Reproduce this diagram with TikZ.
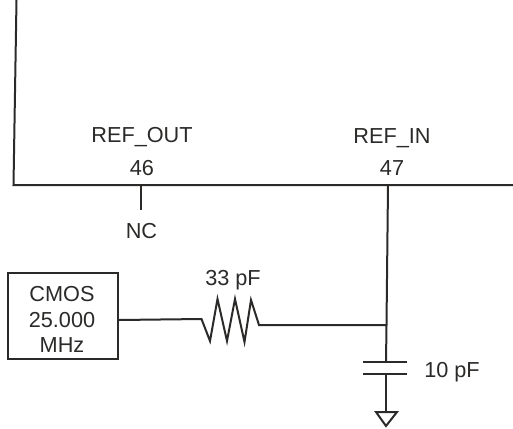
\documentclass[tikz,border=0pt]{standalone}
\usepackage{fontspec}
\setmainfont{Liberation Sans}
\definecolor{inkgray}{HTML}{2B2A29}
\tikzset{
	wire/.style={draw=inkgray, line width=2pt, line join=miter},
	lbl/.style={text=inkgray, font=\fontsize{21.7}{25}\selectfont, inner sep=0pt, anchor=base},
}
\begin{document}
\begin{tikzpicture}[x=1pt,y=-1pt]
	\useasboundingbox (0,0) rectangle (513,428);
	\coordinate (T) at (16.5, 0);
	\coordinate (L) at (13.5, 185);
	\coordinate (R) at (513, 185);
	\coordinate (P) at (141, 185);
	\coordinate (PE) at (141, 210);
	\coordinate (Q) at (388, 185);
	\coordinate (J) at (386.5, 325);
	\coordinate (CA) at (386, 362);
	\coordinate (CB) at (386, 374);
	\coordinate (G) at (386, 412);
	\coordinate (RA) at (201.5, 319);
	\coordinate (RB) at (259, 325);
	\draw[wire] (T) -- (L) -- (R);
	\draw[wire] (P) -- (PE);
	\draw[wire] (Q) -- (J) -- (CA);
	\draw[wire] (CB) -- (G);
	\draw[wire] (363, 362) -- (407, 362);
	\draw[wire] (363, 374) -- (407, 374);
	\draw[wire] (G) -- (376, 412) -- (386, 426) -- (397, 412) -- cycle;
	\node[lbl] (refout) at (142, 142) {REF\_OUT};
	\node[lbl] (pin46) at (142, 175) {46};
	\node[lbl] (refin) at (392, 143) {REF\_IN};
	\node[lbl] (pin47) at (392, 175) {47};
	\node[lbl] (nc) at (141.5, 238) {NC};
	\node[wire, minimum width=110pt, minimum height=85.5pt, inner sep=0pt] (osc) at (63, 316) {};
	\node[lbl] (osc1) at (62, 301.5) {CMOS};
	\node[lbl] (osc2) at (62, 327) {25.000};
	\node[lbl] (osc3) at (62, 352) {MHz};
	\node[lbl] (rval) at (233, 285) {33 pF};
	\node[lbl] (cval) at (452, 377) {10 pF};
	\draw[wire] (osc.east |- 0,320) -- (RA) -- (210, 341) -- (217.5, 299) -- (227, 341) -- (235, 299) -- (244.5, 342) -- (251, 300) -- (RB) -- (J);
\end{tikzpicture}
\end{document}
